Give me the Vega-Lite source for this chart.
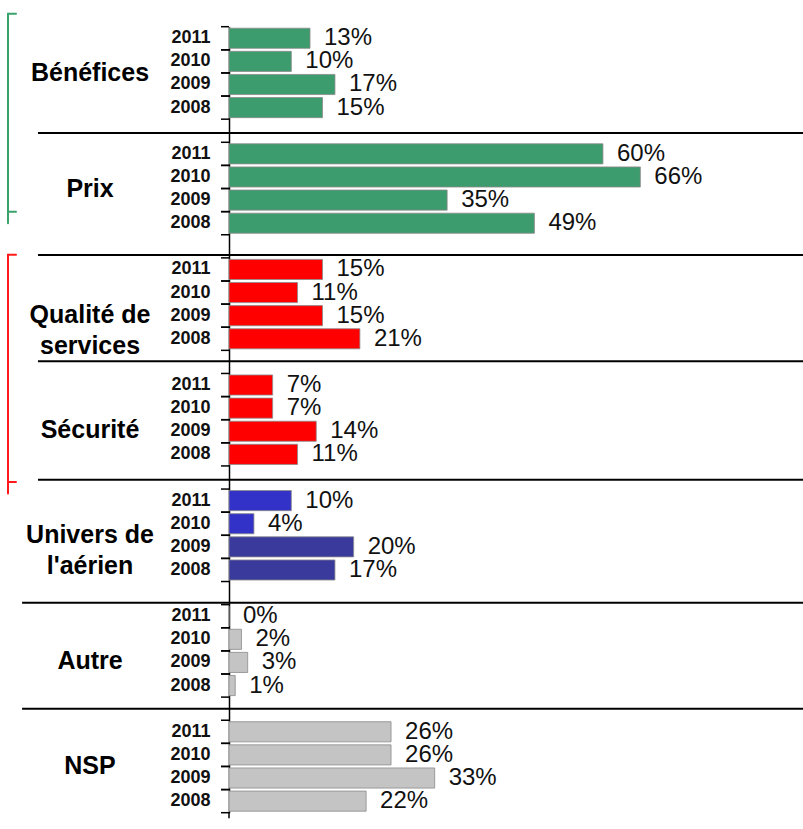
{
  "$schema": "https://vega.github.io/schema/vega-lite/v6.json",
  "autosize": {"type": "none"},
  "padding": {"left": 229, "top": 26.7, "right": 0, "bottom": 16.3},
  "width": 574,
  "height": 786,
  "background": "white",
  "config": {"view": {"stroke": null}},
  "data": {"values": [
    {"cat": "Bénéfices", "year": "2011", "row": "Bénéfices 2011", "value": 0.13},
    {"cat": "Bénéfices", "year": "2010", "row": "Bénéfices 2010", "value": 0.10},
    {"cat": "Bénéfices", "year": "2009", "row": "Bénéfices 2009", "value": 0.17},
    {"cat": "Bénéfices", "year": "2008", "row": "Bénéfices 2008", "value": 0.15},
    {"cat": "Prix", "year": "2011", "row": "Prix 2011", "value": 0.60},
    {"cat": "Prix", "year": "2010", "row": "Prix 2010", "value": 0.66},
    {"cat": "Prix", "year": "2009", "row": "Prix 2009", "value": 0.35},
    {"cat": "Prix", "year": "2008", "row": "Prix 2008", "value": 0.49},
    {"cat": "Qualité", "year": "2011", "row": "Qualité 2011", "value": 0.15},
    {"cat": "Qualité", "year": "2010", "row": "Qualité 2010", "value": 0.11},
    {"cat": "Qualité", "year": "2009", "row": "Qualité 2009", "value": 0.15},
    {"cat": "Qualité", "year": "2008", "row": "Qualité 2008", "value": 0.21},
    {"cat": "Sécurité", "year": "2011", "row": "Sécurité 2011", "value": 0.07},
    {"cat": "Sécurité", "year": "2010", "row": "Sécurité 2010", "value": 0.07},
    {"cat": "Sécurité", "year": "2009", "row": "Sécurité 2009", "value": 0.14},
    {"cat": "Sécurité", "year": "2008", "row": "Sécurité 2008", "value": 0.11},
    {"cat": "Univers", "year": "2011", "row": "Univers 2011", "value": 0.10},
    {"cat": "Univers", "year": "2010", "row": "Univers 2010", "value": 0.04},
    {"cat": "Univers", "year": "2009", "row": "Univers 2009", "value": 0.20},
    {"cat": "Univers", "year": "2008", "row": "Univers 2008", "value": 0.17},
    {"cat": "Autre", "year": "2011", "row": "Autre 2011", "value": 0.00},
    {"cat": "Autre", "year": "2010", "row": "Autre 2010", "value": 0.02},
    {"cat": "Autre", "year": "2009", "row": "Autre 2009", "value": 0.03},
    {"cat": "Autre", "year": "2008", "row": "Autre 2008", "value": 0.01},
    {"cat": "NSP", "year": "2011", "row": "NSP 2011", "value": 0.26},
    {"cat": "NSP", "year": "2010", "row": "NSP 2010", "value": 0.26},
    {"cat": "NSP", "year": "2009", "row": "NSP 2009", "value": 0.33},
    {"cat": "NSP", "year": "2008", "row": "NSP 2008", "value": 0.22}
  ]},
  "layer": [
    {
      "mark": {"type": "bar", "height": {"band": 0.87}, "stroke": "#8a8a8a", "strokeWidth": 0.8},
      "encoding": {
        "y": {
          "field": "row", "type": "nominal",
          "scale": {
            "domain": ["Bénéfices 2011","Bénéfices 2010","Bénéfices 2009","Bénéfices 2008","gap1",
                       "Prix 2011","Prix 2010","Prix 2009","Prix 2008","gap2",
                       "Qualité 2011","Qualité 2010","Qualité 2009","Qualité 2008","gap3",
                       "Sécurité 2011","Sécurité 2010","Sécurité 2009","Sécurité 2008","gap4",
                       "Univers 2011","Univers 2010","Univers 2009","Univers 2008","gap5",
                       "Autre 2011","Autre 2010","Autre 2009","Autre 2008","gap6",
                       "NSP 2011","NSP 2010","NSP 2009","NSP 2008"],
            "paddingInner": 0, "paddingOuter": 0
          },
          "axis": {
            "title": null,
            "ticks": false,
            "domainColor": "#000",
            "domainWidth": 1.5,
            "labelFont": "Liberation Sans, Arial, sans-serif",
            "labelFontWeight": "bold",
            "labelFontSize": 18,
            "labelColor": "#111",
            "labelPadding": 19,
            "labelBaseline": "middle",
            "labelExpr": "indexof(datum.value, 'gap') === 0 ? '' : slice(datum.value, -4)"
          }
        },
        "x": {"field": "value", "type": "quantitative", "scale": {"domain": [0, 0.921], "nice": false}, "axis": null},
        "color": {
          "condition": {"test": "datum.cat === 'Univers' && (datum.year === '2009' || datum.year === '2008')", "value": "#3a3a9c"},
          "field": "cat", "type": "nominal",
          "scale": {
            "domain": ["Bénéfices","Prix","Qualité","Sécurité","Univers","Autre","NSP"],
            "range": ["#3d9c6d","#3d9c6d","#ff0000","#ff0000","#3232c8","#c4c4c4","#c4c4c4"]
          },
          "legend": null
        }
      }
    },
    {
      "mark": {"type": "text", "align": "left", "baseline": "middle", "dx": 14, "font": "Liberation Sans, Arial, sans-serif", "fontSize": 24, "color": "#111"},
      "encoding": {
        "y": {"field": "row", "type": "nominal"},
        "x": {"field": "value", "type": "quantitative", "scale": {"domain": [0, 0.921], "nice": false}},
        "text": {"field": "value", "format": ".0%"}
      }
    },
    {
      "mark": {"type": "rule", "color": "#000", "strokeWidth": 1.5},
      "encoding": {
        "y": {"field": "row", "type": "nominal", "bandPosition": 0},
        "x": {"datum": -0.01284, "type": "quantitative", "scale": {"domain": [0, 0.921], "nice": false}},
        "x2": {"datum": 0}
      }
    },
    {
      "mark": {"type": "rule", "color": "#000", "strokeWidth": 1.5},
      "encoding": {
        "y": {"field": "row", "type": "nominal", "bandPosition": 1},
        "x": {"datum": -0.01284, "type": "quantitative", "scale": {"domain": [0, 0.921], "nice": false}},
        "x2": {"datum": 0}
      }
    },
    {
      "data": {"values": [
        {"cat": "Bénéfices", "label": "Bénéfices", "anchor": "Bénéfices 2009"},
        {"cat": "Prix", "label": "Prix", "anchor": "Prix 2009"},
        {"cat": "Univers", "label": "Univers de\nl'aérien", "anchor": "Univers 2009"},
        {"cat": "NSP", "label": "NSP", "anchor": "NSP 2009"}
      ]},
      "mark": {"type": "text", "align": "center", "baseline": "middle", "font": "Liberation Sans, Arial, sans-serif", "fontWeight": "bold", "fontSize": 25, "lineBreak": "\n", "lineHeight": 31, "color": "#000"},
      "encoding": {
        "y": {"field": "anchor", "type": "nominal", "bandPosition": 0},
        "x": {"datum": -0.223, "type": "quantitative", "scale": {"domain": [0, 0.921], "nice": false}},
        "text": {"field": "label"}
      }
    },
    {
      "data": {"values": [
        {"cat": "Qualité", "label": "Qualité de\nservices", "anchor": "Qualité 2009"},
        {"cat": "Sécurité", "label": "Sécurité", "anchor": "Sécurité 2009"},
        {"cat": "Autre", "label": "Autre", "anchor": "Autre 2009"}
      ]},
      "mark": {"type": "text", "align": "center", "baseline": "middle", "font": "Liberation Sans, Arial, sans-serif", "fontWeight": "bold", "fontSize": 25, "lineBreak": "\n", "lineHeight": 31, "color": "#000"},
      "encoding": {
        "y": {"field": "anchor", "type": "nominal", "bandPosition": 0.45},
        "x": {"datum": -0.223, "type": "quantitative", "scale": {"domain": [0, 0.921], "nice": false}},
        "text": {"field": "label"}
      }
    },
    {
      "data": {"values": [{"gap": "gap1"}, {"gap": "gap4"}]},
      "mark": {"type": "rule", "color": "#000", "strokeWidth": 2},
      "encoding": {"x": {"datum": -0.3065, "type": "quantitative", "scale": {"domain": [0, 0.921], "nice": false}}, "x2": {"datum": 0.921}, "y": {"field": "gap", "type": "nominal", "bandPosition": 0.6}}
    },
    {
      "data": {"values": [{"gap": "gap2"}]},
      "mark": {"type": "rule", "color": "#000", "strokeWidth": 2},
      "encoding": {"x": {"datum": -0.3065, "type": "quantitative", "scale": {"domain": [0, 0.921], "nice": false}}, "x2": {"datum": 0.921}, "y": {"field": "gap", "type": "nominal", "bandPosition": 0.88}}
    },
    {
      "data": {"values": [{"gap": "gap3"}]},
      "mark": {"type": "rule", "color": "#000", "strokeWidth": 2},
      "encoding": {"x": {"datum": -0.3065, "type": "quantitative", "scale": {"domain": [0, 0.921], "nice": false}}, "x2": {"datum": 0.921}, "y": {"field": "gap", "type": "nominal", "bandPosition": 0.47}}
    },
    {
      "data": {"values": [{"gap": "gap5"}]},
      "mark": {"type": "rule", "color": "#000", "strokeWidth": 2},
      "encoding": {"x": {"datum": -0.332, "type": "quantitative", "scale": {"domain": [0, 0.921], "nice": false}}, "x2": {"datum": 0.921}, "y": {"field": "gap", "type": "nominal", "bandPosition": 0.92}}
    },
    {
      "data": {"values": [{"gap": "gap6"}]},
      "mark": {"type": "rule", "color": "#000", "strokeWidth": 2},
      "encoding": {"x": {"datum": -0.332, "type": "quantitative", "scale": {"domain": [0, 0.921], "nice": false}}, "x2": {"datum": 0.921}, "y": {"field": "gap", "type": "nominal", "bandPosition": 0.5}}
    },
    {
      "data": {"values": [{"from": "NSP 2008", "to": "NSP 2008"}]},
      "mark": {"type": "rule", "color": "#000", "strokeWidth": 1.5, "y2Offset": 17},
      "encoding": {"x": {"datum": 0, "type": "quantitative", "scale": {"domain": [0, 0.921], "nice": false}}, "y": {"field": "from", "type": "nominal", "bandPosition": 1}, "y2": {"field": "to"}}
    },
    {
      "data": {"values": [{"from": "Bénéfices 2011", "to": "Prix 2008"}]},
      "mark": {"type": "rule", "color": "#3aa36c", "strokeWidth": 2, "strokeCap": "round", "yOffset": -13},
      "encoding": {"x": {"datum": -0.3546, "type": "quantitative", "scale": {"domain": [0, 0.921], "nice": false}}, "y": {"field": "from", "type": "nominal", "bandPosition": 0}, "y2": {"field": "to"}}
    },
    {
      "data": {"values": [{"at": "Bénéfices 2011"}]},
      "mark": {"type": "rule", "color": "#3aa36c", "strokeWidth": 2, "strokeCap": "round", "yOffset": -13},
      "encoding": {"x": {"datum": -0.3546, "type": "quantitative", "scale": {"domain": [0, 0.921], "nice": false}}, "x2": {"datum": -0.3418}, "y": {"field": "at", "type": "nominal", "bandPosition": 0}}
    },
    {
      "data": {"values": [{"at": "Prix 2008"}]},
      "mark": {"type": "rule", "color": "#3aa36c", "strokeWidth": 2, "strokeCap": "round"},
      "encoding": {"x": {"datum": -0.3546, "type": "quantitative", "scale": {"domain": [0, 0.921], "nice": false}}, "x2": {"datum": -0.3418}, "y": {"field": "at", "type": "nominal", "bandPosition": 0}}
    },
    {
      "data": {"values": [{"from": "gap2", "to": "gap4"}]},
      "mark": {"type": "rule", "color": "#ff1a1a", "strokeWidth": 2, "strokeCap": "round", "yOffset": 20, "y2Offset": 16},
      "encoding": {"x": {"datum": -0.3546, "type": "quantitative", "scale": {"domain": [0, 0.921], "nice": false}}, "y": {"field": "from", "type": "nominal", "bandPosition": 0}, "y2": {"field": "to"}}
    },
    {
      "data": {"values": [{"at": "gap2"}]},
      "mark": {"type": "rule", "color": "#ff1a1a", "strokeWidth": 2, "strokeCap": "round", "yOffset": 20},
      "encoding": {"x": {"datum": -0.3546, "type": "quantitative", "scale": {"domain": [0, 0.921], "nice": false}}, "x2": {"datum": -0.3418}, "y": {"field": "at", "type": "nominal", "bandPosition": 0}}
    },
    {
      "data": {"values": [{"at": "gap4"}]},
      "mark": {"type": "rule", "color": "#ff1a1a", "strokeWidth": 2, "strokeCap": "round", "yOffset": 16},
      "encoding": {"x": {"datum": -0.3546, "type": "quantitative", "scale": {"domain": [0, 0.921], "nice": false}}, "x2": {"datum": -0.3418}, "y": {"field": "at", "type": "nominal", "bandPosition": 0}}
    }
  ]
}
